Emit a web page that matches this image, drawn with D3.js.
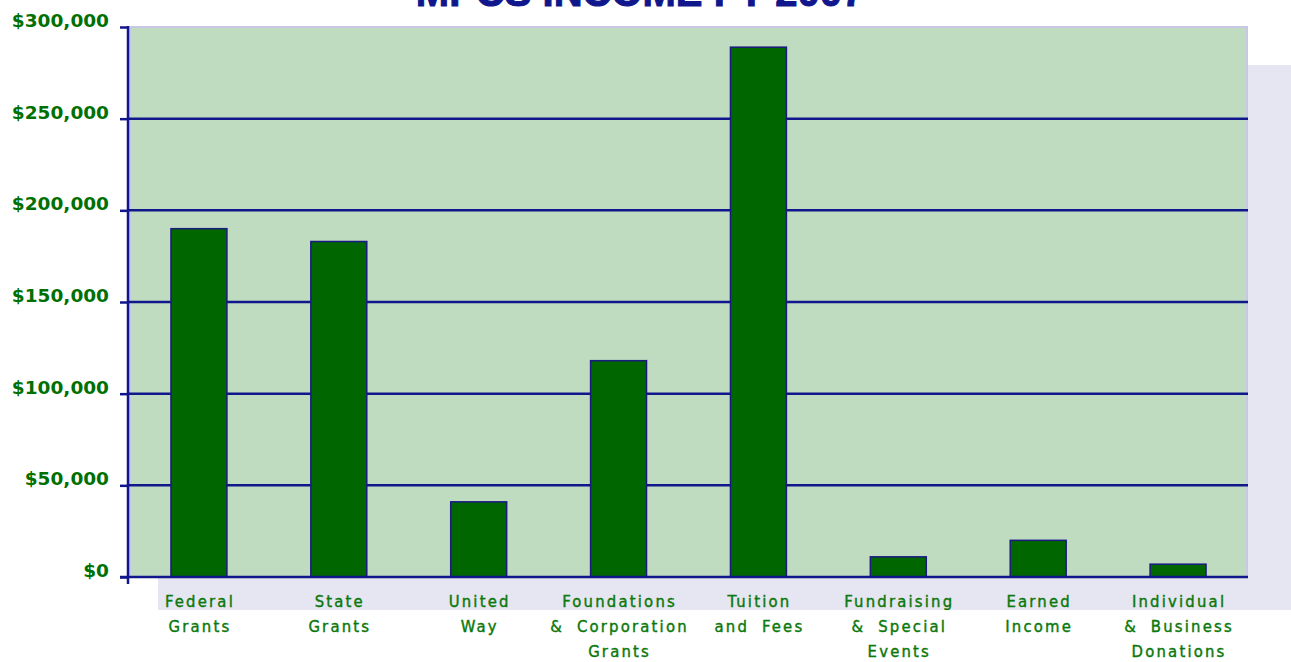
<!DOCTYPE html>
<html>
<head>
<meta charset="utf-8">
<script src="https://cdn.jsdelivr.net/npm/d3@7"></script>
<style>
  body { margin: 0; background: #fff; }
  svg { display: block; }
</style>
</head>
<body>
<div id="chart"></div>
<script>
// data
var categories = [
  ["Federal", "Grants"],
  ["State", "Grants"],
  ["United", "Way"],
  ["Foundations", "& Corporation", "Grants"],
  ["Tuition", "and Fees"],
  ["Fundraising", "& Special", "Events"],
  ["Earned", "Income"],
  ["Individual", "& Business", "Donations"]
];
var income = [190000, 183000, 41000, 118000, 289000, 11000, 20000, 7000];
var yTicks = [0, 50000, 100000, 150000, 200000, 250000, 300000];

var width = 1291, height = 662;
var margin = { top: 27, left: 129, right: 43, bottom: 85 };
var plotW = width - margin.left - margin.right;
var plotH = height - margin.top - margin.bottom;

var svg = d3.select("#chart").append("svg")
  .attr("width", width)
  .attr("height", height);

// title, mostly cut off at the top
svg.append("text")
  .attr("x", 640)
  .attr("y", 6)
  .attr("text-anchor", "middle")
  .style("font-family", "'Liberation Sans', Arial, sans-serif")
  .style("font-weight", "bold")
  .style("font-size", "40px")
  .style("stroke", "#10168c")
  .style("stroke-width", 1)
  .style("fill", "#10168c")
  .text("MPCS INCOME FY 2007");

// lavender shadow panel
svg.append("rect")
  .attr("x", 158).attr("y", 65)
  .attr("width", width - 158).attr("height", 545)
  .style("fill", "#e6e6f2");

var g = svg.append("g")
  .attr("transform", "translate(" + margin.left + "," + margin.top + ")");

var x = d3.scaleBand()
  .domain(d3.range(categories.length))
  .range([0, plotW])
  .paddingInner(0.6)
  .paddingOuter(0.3);

var y = d3.scaleLinear()
  .domain([0, 300000])
  .range([plotH, 0]);

// plot background with light border
g.append("rect")
  .attr("x", 0).attr("y", -1)
  .attr("width", plotW).attr("height", plotH + 1)
  .style("fill", "#c8c8e6");
g.append("rect")
  .attr("x", 2).attr("y", 1)
  .attr("width", plotW - 4).attr("height", plotH - 1)
  .style("fill", "#c0dcc0");

// gridlines
g.selectAll(".grid")
  .data(yTicks.filter(function (d) { return d > 0 && d < 300000; }))
  .enter().append("line")
  .attr("x1", 0).attr("x2", plotW)
  .attr("y1", function (d) { return y(d); })
  .attr("y2", function (d) { return y(d); })
  .style("stroke", "#10168c")
  .style("stroke-width", 2.5);

// bars
g.selectAll(".bar")
  .data(income)
  .enter().append("rect")
  .attr("class", "bar")
  .attr("x", function (d, i) { return x(i); })
  .attr("y", function (d) { return y(d); })
  .attr("width", x.bandwidth())
  .attr("height", function (d) { return plotH - y(d); })
  .style("fill", "#006600")
  .style("stroke", "#1a1a80")
  .style("stroke-width", 1.5);

// y axis
var yAxis = g.append("g")
  .call(d3.axisLeft(y).tickValues(yTicks).tickSize(9)
    .tickFormat(function (d) { return "$" + d3.format(",")(d); }));
yAxis.select(".domain").remove();
yAxis.selectAll(".tick line")
  .style("stroke", "#10168c")
  .style("stroke-width", 2.5);
yAxis.selectAll(".tick text")
  .attr("x", -20)
  .attr("dy", "-0.02em")
  .style("font-family", "'DejaVu Sans', Verdana, sans-serif")
  .style("font-weight", "bold")
  .style("font-size", "18.5px")
  .style("fill", "#007000");

// axis lines
g.append("line")
  .attr("x1", -1).attr("x2", -1)
  .attr("y1", -1).attr("y2", plotH + 7)
  .style("stroke", "#10168c").style("stroke-width", 2.5);
g.append("line")
  .attr("x1", -9).attr("x2", plotW)
  .attr("y1", plotH).attr("y2", plotH)
  .style("stroke", "#10168c").style("stroke-width", 2.5);

// category labels
var labels = g.selectAll(".cat")
  .data(categories)
  .enter().append("text")
  .attr("class", "cat")
  .attr("text-anchor", "middle")
  .style("font-family", "'DejaVu Sans Condensed', 'DejaVu Sans', sans-serif")
  .style("font-size", "16.5px")
  .style("letter-spacing", "2.2px")
  .style("word-spacing", "6px")
  .style("fill", "#0a780a")
  .style("stroke", "#0a780a")
  .style("stroke-width", 0.4);
labels.selectAll("tspan")
  .data(function (d, i) { return d.map(function (s) { return { s: s, i: i }; }); })
  .enter().append("tspan")
  .attr("x", function (d) { return x(d.i) + x.bandwidth() / 2 + 1; })
  .attr("y", function (d, j) { return plotH + 30 + j * 25; })
  .text(function (d) { return d.s; });
</script>
</body>
</html>
